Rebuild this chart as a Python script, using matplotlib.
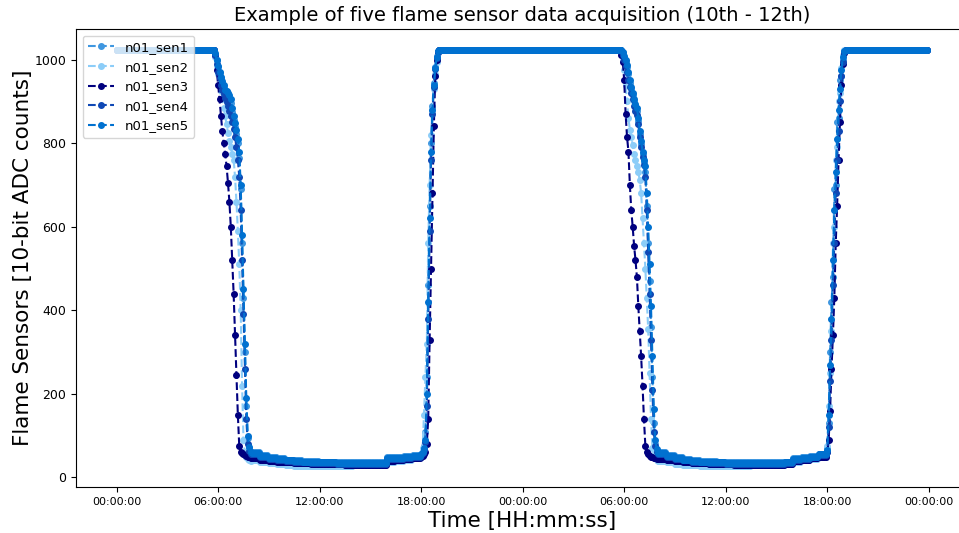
import matplotlib
matplotlib.use("Agg")
import matplotlib.pyplot as plt
import matplotlib.dates as mdates
import numpy as np
import pandas as pd

# sampling grid: one reading every 5 minutes, 10th 00:00 -> 11th 23:55
times = pd.date_range("2021-05-10 00:00", periods=576, freq="5min")

labels = ["n01_sen1", "n01_sen2", "n01_sen3", "n01_sen4", "n01_sen5"]
colors = ["#3f97e0", "#8ccdf8", "#00007f", "#0f48b5", "#0071d0"]

SAT = 1023  # 10-bit ADC saturation

# phase lengths (in samples): night, dusk fall, day low, dawn rise, night, ...
n_night1, n_night2, n_night3 = 66, 120, 54

# evening drop day 1 (05:30 -> 07:55)
drop1 = {
    "n01_sen1": [1023, 1023, 1023, 1023, 1012, 998, 982, 968, 955, 945, 935, 925, 918, 912, 905,
                 895, 875, 855, 838, 822, 800, 765, 690, 560, 430, 300, 170, 95, 70, 60],
    "n01_sen2": [1023, 1023, 1023, 1023, 1005, 985, 965, 945, 925, 905, 885, 865, 845, 825, 805,
                 790, 775, 760, 720, 660, 590, 510, 400, 220, 90, 60, 50, 45, 42, 40],
    "n01_sen3": [1023, 1023, 1023, 1023, 1010, 975, 940, 905, 865, 828, 800, 775, 745, 705, 660,
                 600, 520, 440, 340, 245, 150, 75, 62, 58, 55, 53, 51, 49, 48, 46],
    "n01_sen4": [1023, 1023, 1023, 1023, 1010, 990, 970, 955, 940, 928, 918, 908, 898, 888, 878,
                 865, 850, 835, 815, 790, 760, 720, 640, 520, 390, 260, 140, 80, 64, 57],
    "n01_sen5": [1023, 1023, 1023, 1023, 1015, 1000, 985, 970, 958, 948, 938, 928, 925, 920, 915,
                 905, 885, 865, 848, 832, 810, 780, 700, 580, 450, 320, 190, 100, 72, 62],
}

# low level readings, half-hourly (08:00 -> 17:30)
low1 = {
    "n01_sen1": [60, 54, 49, 46, 43, 41, 40, 39, 38, 38, 37, 37, 37, 36, 36, 37, 48, 49, 51, 54],
    "n01_sen2": [42, 38, 35, 32, 30, 28, 27, 27, 27, 27, 28, 28, 29, 30, 31, 32, 38, 40, 43, 47],
    "n01_sen3": [46, 43, 40, 38, 36, 35, 34, 33, 33, 32, 32, 31, 31, 30, 30, 31, 40, 42, 44, 47],
    "n01_sen4": [56, 50, 45, 42, 39, 37, 36, 35, 34, 34, 33, 33, 33, 32, 32, 33, 44, 45, 47, 50],
    "n01_sen5": [58, 52, 47, 44, 41, 39, 38, 37, 36, 36, 35, 35, 35, 34, 34, 35, 46, 47, 49, 52],
}

# rise day 1 (18:00 -> 19:25)
rise1 = {
    "n01_sen1": [57, 62, 75, 110, 240, 460, 650, 800, 890, 945, 982, 1008, 1021, 1023, 1023, 1023, 1023, 1023],
    "n01_sen2": [52, 70, 150, 240, 320, 560, 700, 820, 880, 930, 965, 995, 1015, 1023, 1023, 1023, 1023, 1023],
    "n01_sen3": [50, 52, 56, 62, 80, 140, 330, 500, 680, 840, 960, 1000, 1018, 1023, 1023, 1023, 1023, 1023],
    "n01_sen4": [54, 58, 66, 85, 170, 380, 590, 760, 870, 935, 978, 1003, 1019, 1023, 1023, 1023, 1023, 1023],
    "n01_sen5": [55, 60, 70, 90, 200, 420, 620, 780, 880, 940, 980, 1005, 1020, 1023, 1023, 1023, 1023, 1023],
}

# drop day 2 (05:30 -> 07:55)
drop2 = {
    "n01_sen1": [1023, 1023, 1023, 1023, 1023, 1015, 1004, 994, 982, 965, 945, 930, 915, 900, 890,
                 878, 852, 822, 798, 775, 755, 730, 650, 560, 470, 360, 240, 130, 80, 64],
    "n01_sen2": [1023, 1023, 1023, 1023, 1015, 1000, 975, 940, 900, 860, 832, 815, 795, 775, 760,
                 745, 730, 712, 680, 620, 560, 500, 430, 355, 250, 140, 70, 52, 46, 43],
    "n01_sen3": [1023, 1023, 1023, 1023, 1012, 995, 950, 870, 815, 780, 700, 640, 600, 555, 520,
                 480, 410, 350, 290, 220, 140, 75, 60, 55, 52, 50, 48, 47, 46, 45],
    "n01_sen4": [1023, 1023, 1023, 1023, 1020, 1010, 998, 985, 970, 952, 935, 920, 905, 890, 878,
                 868, 845, 815, 790, 768, 748, 720, 640, 540, 440, 330, 210, 110, 75, 62],
    "n01_sen5": [1023, 1023, 1023, 1023, 1023, 1018, 1008, 998, 988, 970, 950, 935, 920, 905, 893,
                 885, 860, 830, 805, 780, 760, 745, 680, 600, 510, 410, 290, 165, 90, 68],
}

low2 = {
    "n01_sen1": [60, 53, 48, 45, 42, 40, 39, 38, 37, 37, 36, 36, 36, 36, 37, 38, 47, 49, 52, 57],
    "n01_sen2": [40, 36, 33, 31, 29, 28, 27, 27, 27, 28, 28, 29, 30, 30, 31, 32, 38, 41, 44, 49],
    "n01_sen3": [44, 41, 39, 37, 35, 34, 33, 32, 32, 31, 31, 31, 30, 30, 31, 32, 40, 43, 46, 50],
    "n01_sen4": [56, 49, 44, 41, 38, 36, 35, 34, 33, 33, 32, 32, 32, 32, 33, 34, 43, 45, 48, 53],
    "n01_sen5": [58, 51, 46, 43, 40, 38, 37, 36, 35, 35, 34, 34, 34, 34, 35, 36, 45, 47, 50, 55],
}

rise2 = {
    "n01_sen1": [70, 130, 300, 420, 480, 690, 700, 850, 860, 950, 960, 1000, 1018, 1023, 1023, 1023, 1023, 1023],
    "n01_sen2": [75, 170, 250, 350, 560, 600, 760, 790, 900, 920, 980, 1010, 1023, 1023, 1023, 1023, 1023, 1023],
    "n01_sen3": [60, 90, 160, 260, 340, 430, 560, 650, 760, 850, 940, 990, 1015, 1023, 1023, 1023, 1023, 1023],
    "n01_sen4": [62, 120, 230, 330, 460, 560, 680, 760, 830, 900, 960, 995, 1018, 1023, 1023, 1023, 1023, 1023],
    "n01_sen5": [65, 150, 270, 380, 520, 640, 730, 810, 880, 930, 975, 1005, 1020, 1023, 1023, 1023, 1023, 1023],
}


def build(name):
    return np.concatenate([
        [SAT] * n_night1,
        drop1[name],
        np.repeat(low1[name], 6),
        rise1[name],
        [SAT] * n_night2,
        drop2[name],
        np.repeat(low2[name], 6),
        rise2[name],
        [SAT] * n_night3,
    ])


fig = plt.figure(figsize=(9.59, 5.33), dpi=100)
ax = fig.add_axes([0.0793, 0.0863, 0.930, 0.859])

for name, c in zip(labels, colors):
    ax.plot(times, build(name), linestyle="--", marker=".", markersize=8,
            linewidth=1.5, color=c, label=name)

ax.xaxis.set_major_locator(mdates.HourLocator(byhour=[0, 6, 12, 18]))
ax.xaxis.set_major_formatter(mdates.DateFormatter("%H:%M:%S"))
ax.tick_params(axis="x", labelsize=8)
ax.tick_params(axis="y", labelsize=9)

ax.set_title("Example of five flame sensor data acquisition (10th - 12th)", fontsize=14)
ax.set_xlabel("Time [HH:mm:ss]", fontsize=15.5, labelpad=3)
ax.set_ylabel("Flame Sensors [10-bit ADC counts]", fontsize=15.5, labelpad=1)
ax.legend(loc="upper left", fontsize=9.5)

fig.savefig("out.png", dpi=100)
